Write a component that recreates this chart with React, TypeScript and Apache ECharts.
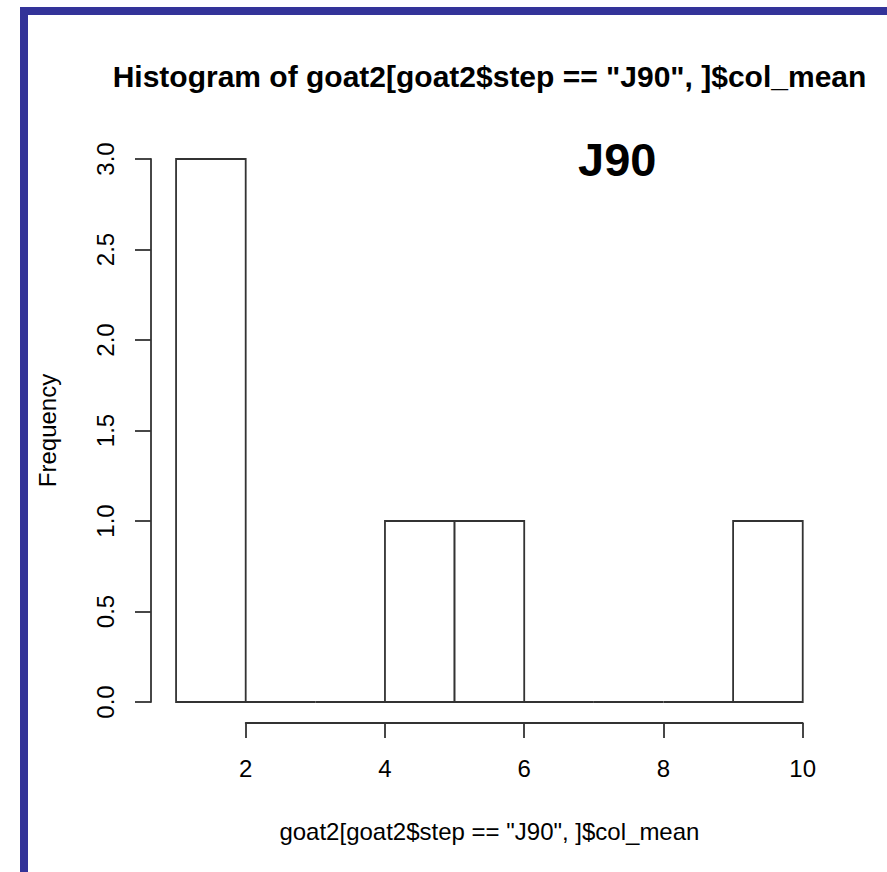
import React, { useEffect, useRef } from "react";
import * as echarts from "echarts";

const breaks = [1, 2, 3, 4, 5, 6, 7, 8, 9, 10];
const counts = [3, 0, 0, 1, 1, 0, 0, 0, 1];
const xTicks = [2, 4, 6, 8, 10];
const yTickLabels = ["0.0", "0.5", "1.0", "1.5", "2.0", "2.5", "3.0"];
const titleText = 'Histogram of goat2[goat2$step == "J90", ]$col_mean';
const xLabel = 'goat2[goat2$step == "J90", ]$col_mean';
const yLabel = "Frequency";
const annotation = "J90";

const FONT = "'Liberation Sans', Arial, sans-serif";
const INK = "#333333";

export default function App() {
  const ref = useRef<HTMLDivElement>(null);
  useEffect(() => {
    if (!ref.current) return;
    const chart = echarts.init(ref.current, null, { renderer: "svg" });
    const binData = counts.map((c, i) => [breaks[i], breaks[i + 1], c]);
    const option: any = {
      animation: false,
      backgroundColor: "#ffffff",
      grid: [
        { left: 151, right: 59.2, top: 137.3, bottom: 148.3 },
        { left: 245.7, right: 84.3, top: 137.3, bottom: 149 },
        { left: 151, right: 59.2, top: 159, bottom: 170 },
      ],
      xAxis: [
        {
          gridIndex: 0, type: "value", min: 0.64, max: 10.36,
          axisLine: { show: false }, axisTick: { show: false }, axisLabel: { show: false }, splitLine: { show: false },
          name: xLabel, nameLocation: "middle", nameGap: 96,
          nameTextStyle: { fontSize: 24, color: "#000", fontFamily: FONT },
        },
        {
          gridIndex: 1, type: "value", min: 2, max: 10, interval: 2,
          axisLine: { show: true, lineStyle: { color: INK, width: 1.8 } },
          axisTick: { show: true, length: 15, inside: false, lineStyle: { color: INK, width: 1.8 } },
          axisLabel: { show: true, fontSize: 24, color: "#000", fontFamily: FONT, margin: 33,
            formatter: (v: number) => (xTicks.includes(v) ? String(v) : "") },
          splitLine: { show: false },
        },
        { gridIndex: 2, type: "value", show: false, min: 0, max: 1 },
      ],
      yAxis: [
        {
          gridIndex: 0, type: "value", min: -0.12, max: 3.12,
          axisLine: { show: false }, axisTick: { show: false }, axisLabel: { show: false }, splitLine: { show: false },
          name: yLabel, nameLocation: "middle", nameGap: 92, nameRotate: 90,
          nameTextStyle: { fontSize: 24, color: "#000", fontFamily: FONT },
        },
        { gridIndex: 1, type: "value", show: false, min: 0, max: 1 },
        {
          gridIndex: 2, type: "value", min: 0, max: 3, interval: 0.5,
          axisLine: { show: true, lineStyle: { color: INK, width: 1.8 } },
          axisTick: { show: true, length: 16, inside: false, lineStyle: { color: INK, width: 1.8 } },
          axisLabel: { show: true, rotate: 90, fontSize: 24, color: "#000", fontFamily: FONT, margin: 34,
            formatter: (v: number) => yTickLabels[Math.round(v * 2)] ?? "" },
          splitLine: { show: false },
        },
      ],
      series: [
        {
          type: "custom",
          xAxisIndex: 0,
          yAxisIndex: 0,
          data: binData,
          encode: { x: [0, 1], y: 2 },
          renderItem: (params: any, api: any) => {
            const x0 = api.value(0);
            const x1 = api.value(1);
            const c = api.value(2);
            const pA = api.coord([x0, 0]);
            const pB = api.coord([x1, c]);
            return {
              type: "polygon",
              shape: { points: [[pA[0], pA[1]], [pA[0], pB[1]], [pB[0], pB[1]], [pB[0], pA[1]]] },
              style: { fill: "#ffffff", stroke: INK, lineWidth: 1.8 },
            };
          },
        },
      ],
      graphic: [
        { type: "rect", shape: { x: 20, y: 7, width: 8, height: 865 }, style: { fill: "#333399" } },
        { type: "rect", shape: { x: 20, y: 7, width: 867, height: 8 }, style: { fill: "#333399" } },
        {
          type: "text", x: 489.5, y: 76,
          style: { text: titleText, fontSize: 30, fontWeight: "bold", fill: "#000", fontFamily: FONT,
            align: "center", verticalAlign: "middle" },
        },
        {
          type: "text", x: 578, y: 159,
          style: { text: annotation, fontSize: 47, fontWeight: "bold", fill: "#000", fontFamily: FONT,
            align: "left", verticalAlign: "middle" },
        },
      ],
    };
    chart.setOption(option);
    return () => chart.dispose();
  }, []);
  return (
    <div
      ref={ref}
      style={{ position: "absolute", left: 0, top: 0, width: 887, height: 872, background: "#fff" }}
    />
  );
}
